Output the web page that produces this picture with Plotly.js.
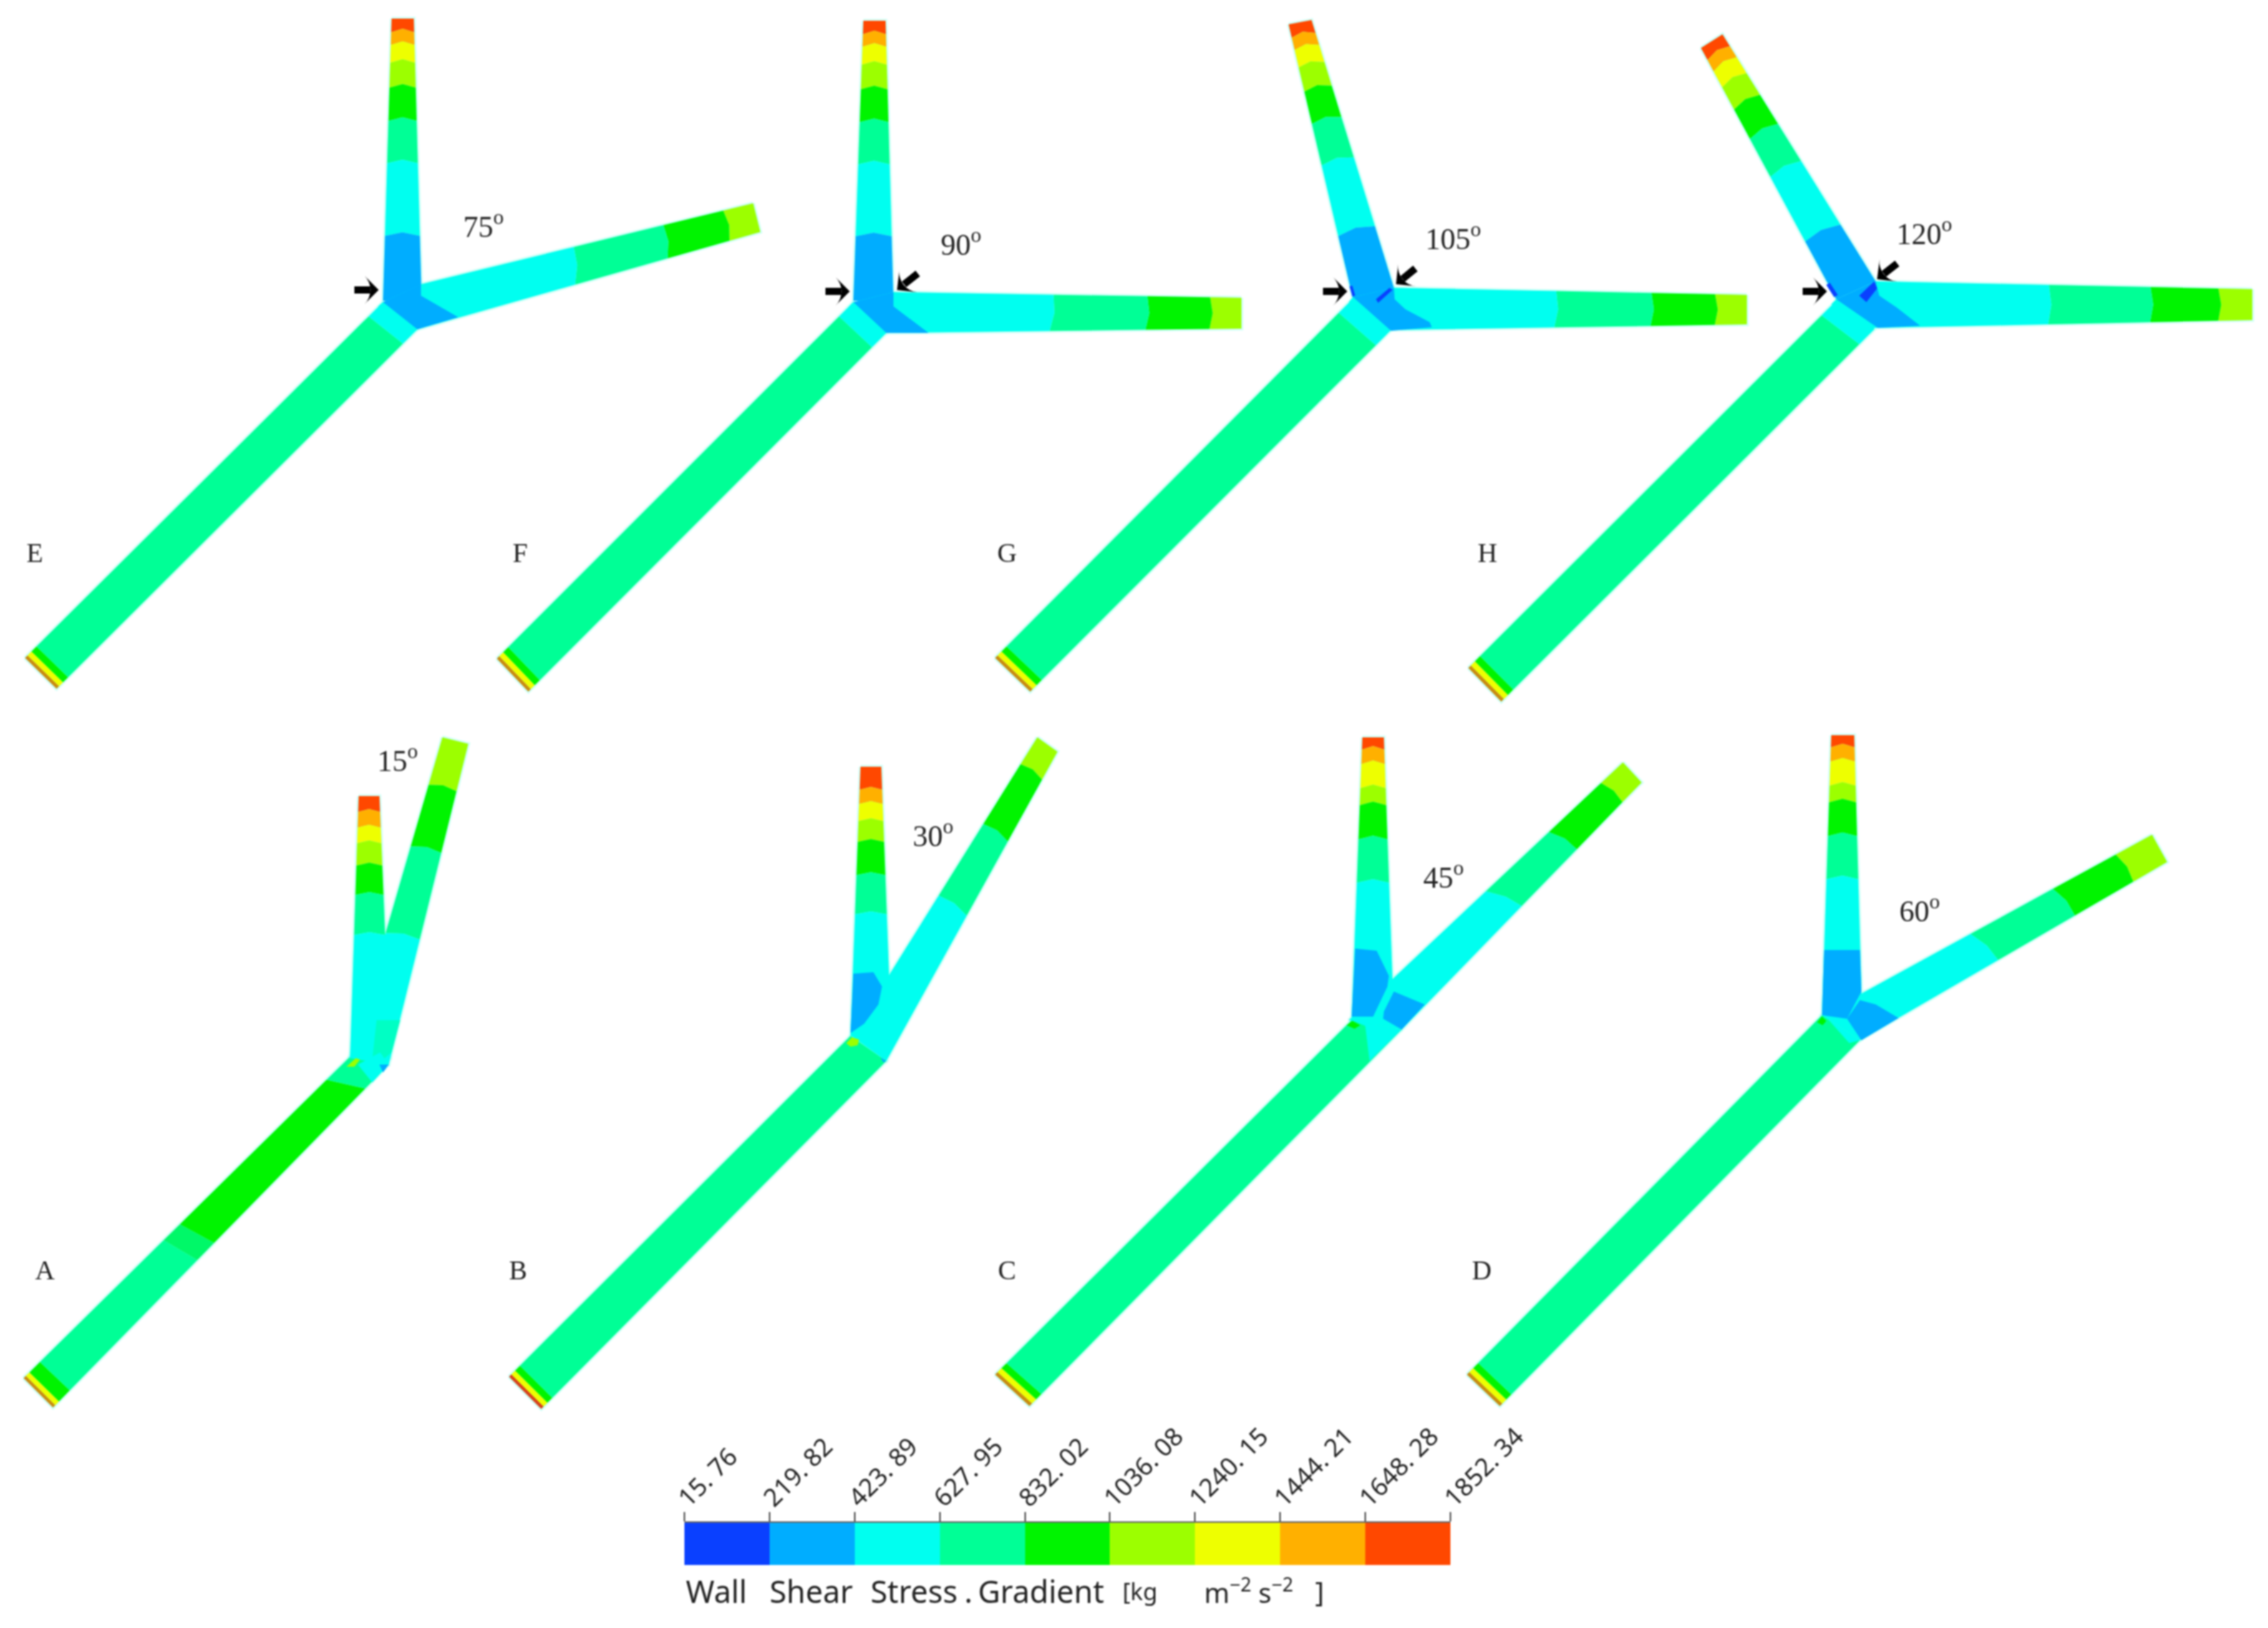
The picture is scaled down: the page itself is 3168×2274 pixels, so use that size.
<!DOCTYPE html>
<html><head><meta charset="utf-8">
<script src="https://cdn.plot.ly/plotly-3.0.1.min.js"></script>
<style>html,body{margin:0;padding:0;background:#fff}#chart{width:3168px;height:2274px;filter:blur(1px)}</style>
</head><body><div id="chart"></div>
<script>
// colour classes of the wall-shear-stress gradient contour
const legendValues=[15.76,219.82,423.89,627.95,832.02,1036.08,1240.15,1444.21,1648.28,1852.34];
const legendLabels=['15. 76','219. 82','423. 89','627. 95','832. 02','1036. 08','1240. 15','1444. 21','1648. 28','1852. 34'];
const classColors=['#0a40ff','#00adff','#00fff0','#00ff96','#00f400','#9cff00','#eeff00','#ffb000','#ff4800'];
const rimColor='#c98a10', rimRed='#d8401a', mixColor='#00f868', softColor='#00ffc4';

// wall outlines: [outlet/inlet edge] -> [junction edge], left and right walls
const inletE=[[35,919],[535,422],[79,962],[583,460]];
const topE=[[547,26],[535,420],[578,26],[589,420]];
const rightE=[[1052,284],[588,397],[1062,324],[583,460]];
const inletF=[[694,920],[1192,422],[738,966],[1238,465]];
const topF=[[1206,29],[1192,420],[1237,29],[1248,420]];
const rightF=[[1734,416],[1248,408],[1734,459],[1238,465]];
const inletG=[[1390,919],[1890,417],[1439,966],[1942,462]];
const topG=[[1800,34],[1890,418],[1832,28],[1947,402]];
const rightG=[[2440,412],[1947,402],[2440,453],[1942,461]];
const inletH=[[2051,933],[2565,420],[2097,980],[2618,460]];
const topH=[[2376,67],[2565,418],[2406,48],[2620,393]];
const rightH=[[3146,404],[2620,393],[3146,447],[2618,458]];
const inletA=[[33,1925],[488,1477],[74,1966],[543,1487]];
const topA=[[501,1112],[489,1478],[530,1112],[545,1478]];
const rightA=[[618,1030],[488,1478],[654,1039],[543,1487]];
const inletB=[[711,1923],[1188,1447],[756,1968],[1238,1482]];
const topB=[[1202,1071],[1188,1447],[1231,1071],[1245,1447]];
const rightB=[[1449,1030],[1189,1447],[1477,1050],[1238,1482]];
const inletC=[[1390,1920],[1888,1425],[1438,1964],[1958,1438]];
const topC=[[1903,1030],[1888,1425],[1933,1030],[1947,1425]];
const rightC=[[2267,1065],[1884,1425],[2293,1093],[1958,1438]];
const inletD=[[2049,1920],[2545,1418],[2095,1964],[2598,1453]];
const topD=[[2558,1027],[2545,1418],[2590,1027],[2601,1418]];
const rightD=[[3006,1166],[2545,1418],[3027,1204],[2598,1453]];

// contour boundaries, as fractions along each pipe, and their colour classes
const topStopsUpper=[.048,.093,.157,.245,.362,.513,.77,1];
const topClassesUpper=[8,7,6,5,4,3,2,1];
const topStopsB=[.085,.138,.202,.279,.402,.548,1];
const topStopsC=[.043,.094,.18,.24,.36,.514,1];
const topStopsA=[.06,.12,.18,.265,.377,.53,1];
const topClassesLower=[8,7,6,5,4,3,2];
const rightStopsUpper=[.09,.27,.54,1], rightClasses=[5,4,3,2];
const rightStopsA=[.148,.34,.61,1], rightClassesA=[5,4,3,2];
const rightStopsB=[.09,.29,.53,1];
const rightStopsC=[.08,.27,.5,1];
const rightStopsD=[.11,.3,.55,1];
const inletStopsStd=[.007,.018,.032,.96,1], inletClassesStd=['rim',6,4,3,2];
const inletStopsLow=[.007,.018,.032,1], inletClassesLow=['rim',6,4,3];
const inletStopsB=[.007,.018,.032,1], inletClassesB=['red',6,4,3];
const inletStopsA=[.007,.018,.05,.43,.48,.93,1], inletClassesA=['rim',6,4,3,'mix',4,3];

// low/high-shear patches near each junction: [class, outline]
const patchesE=[[2,[[535,422],[589,397],[583,460],[575,462],[528,428]]],[1,[[588,397],[588,413],[640,443],[583,460],[535,422]]]];
const patchesF=[[2,[[1192,422],[1248,408],[1238,465],[1230,467],[1186,428]]],[1,[[1248,408],[1248,428],[1297,465],[1238,465],[1192,422]]]];
const patchesG=[[2,[[1890,415],[1947,402],[1942,462],[1934,464],[1884,422]]],[1,[[1947,402],[1948,418],[1963,432],[1997,450],[2000,457],[1943,462],[1890,415]]],
  [0,[[1922,418],[1941,402],[1945,405],[1925,423]]],[0,[[1885,400],[1889,399],[1893,413],[1889,414]]]];
const patchesH=[[2,[[2565,418],[2620,393],[2618,460],[2610,462],[2558,425]]],[1,[[2620,393],[2625,413],[2650,430],[2682,455],[2623,458],[2565,418]]],
  [0,[[2618,393],[2597,413],[2607,422],[2622,403]]],[0,[[2551,398],[2556,395],[2567,412],[2562,415]]]];
const patchesA=[['soft',[[526,1425],[559,1425],[547,1470],[535,1480],[520,1480]]],
  [2,[[500,1487],[531,1470],[543,1487],[520,1512]]],[1,[[530,1487],[543,1487],[535,1498]]],
  [5,[[484,1490],[497,1478],[503,1480],[495,1490]]]];
const patchesB=[[1,[[1192,1360],[1220,1358],[1232,1378],[1227,1403],[1207,1430],[1188,1443]]],
  [5,[[1182,1457],[1190,1449],[1200,1452],[1198,1460],[1188,1462]]],[1,[[1230,1477],[1238,1482],[1234,1484]]]];
const patchesC=[[2,[[1888,1425],[1958,1438],[1913,1482],[1907,1433]]],
  [1,[[1893,1325],[1923,1328],[1940,1363],[1938,1378],[1918,1420],[1888,1420]]],
  [1,[[1947,1385],[1977,1397],[1990,1403],[1958,1438],[1932,1423],[1933,1413]]],
  [4,[[1881,1432],[1889,1426],[1900,1432],[1892,1437]]]];
const patchesD=[[2,[[2545,1418],[2598,1453],[2583,1457],[2552,1422]]],
  [1,[[2548,1327],[2598,1327],[2600,1385],[2580,1423],[2545,1418]]],
  [1,[[2598,1397],[2620,1403],[2652,1422],[2600,1453],[2580,1423]]],
  [4,[[2538,1428],[2545,1420],[2551,1426],[2546,1432]]]];

// panel list
const pipes=[
 [inletE,inletStopsStd,inletClassesStd,0],[topE,topStopsUpper,topClassesUpper,5],[rightE,rightStopsUpper,rightClasses,4],
 [inletF,inletStopsStd,inletClassesStd,0],[topF,topStopsUpper,topClassesUpper,5],[rightF,rightStopsUpper,rightClasses,4],
 [inletG,inletStopsStd,inletClassesStd,0],[topG,topStopsUpper,topClassesUpper,5],[rightG,rightStopsUpper,rightClasses,4],
 [inletH,inletStopsStd,inletClassesStd,0],[topH,topStopsUpper,topClassesUpper,5],[rightH,rightStopsUpper,rightClasses,4],
 [inletA,inletStopsA,inletClassesA,0],[topA,topStopsA,topClassesLower,4],[rightA,rightStopsA,rightClassesA,4],
 [inletB,inletStopsB,inletClassesB,0],[topB,topStopsB,topClassesLower,4],[rightB,rightStopsB,rightClasses,4],
 [inletC,inletStopsLow,inletClassesLow,0],[topC,topStopsC,topClassesLower,5],[rightC,rightStopsC,rightClasses,4],
 [inletD,inletStopsLow,inletClassesLow,0],[topD,topStopsC,topClassesLower,5],[rightD,rightStopsD,rightClasses,4]
];
const patches=[patchesE,patchesF,patchesG,patchesH,patchesA,patchesB,patchesC,patchesD];

// annotation content
const panelLetters=['E','F','G','H','A','B','C','D'];
const letterX=[48,726,1406,2077,63,723,1406,2069];
const letterY=[772,772,772,772,1774,1774,1774,1774];
const angleText=['75','90','105','120','15','30','45','60'];
const angleX=[675,1342,2030,2688,555,1303,2016,2681];
const angleY=[313,338,330,323,1059,1164,1222,1269];
const arrowTail=[[495,405],[1153,407],[1848,407],[2518,407],[1282,382],[1977,375],[2650,368]];
const arrowTip=[[529,405],[1187,407],[1882,407],[2552,407],[1253,405],[1950,397],[2622,390]];
const titleParts=['Wall','Shear','Stress','.','Gradient','[kg','m<sup>−2</sup> s<sup>−2</sup>',']'];
const titleX=[956,1073,1214,1345,1364,1566,1680,1835];
const titleSizes=[43,43,43,43,43,33,38,38];

function colorOf(k){return k==='rim'?rimColor:k==='red'?rimRed:k==='mix'?mixColor:k==='soft'?softColor:classColors[k];}
function mix(a,b,t){return [a[0]+(b[0]-a[0])*t,a[1]+(b[1]-a[1])*t];}
function boundary(p,t,b){
  const L=mix(p[0],p[1],t),R=mix(p[2],p[3],t);
  const M=mix(L,R,.5);
  const ax=[(p[1][0]+p[3][0]-p[0][0]-p[2][0])/2,(p[1][1]+p[3][1]-p[0][1]-p[2][1])/2];
  const n=Math.hypot(ax[0],ax[1]);
  const o=(t>0&&t<1)?b:0;
  return [L,[M[0]-ax[0]/n*o,M[1]-ax[1]/n*o],R];
}
function poly(pts,color,line){
  const xs=pts.map(q=>q[0]).concat(pts[0][0]),ys=pts.map(q=>q[1]).concat(pts[0][1]);
  return {type:'scatter',mode:'lines',x:xs,y:ys,fill:'toself',fillcolor:color,
    line:line||{width:0,color:color},hoverinfo:'skip',showlegend:false,xaxis:'x',yaxis:'y'};
}
const traces=[];
// pale fringe under every pipe
pipes.forEach(([p])=>traces.push(poly([p[0],p[2],p[3],p[1]],'rgba(150,255,235,1)',{width:5,color:'rgba(170,255,240,0.55)'})));
pipes.forEach(([p,stops,cls,b],idx)=>{
  let t0=0;
  stops.forEach((t1,i)=>{
    const a=boundary(p,t0,b),c=boundary(p,t1,b);
    traces.push(poly(a.concat(c.slice().reverse()),colorOf(cls[i])));
    t0=t1;
  });
  if(idx%3===2){
    patches[(idx-2)/3].forEach(([k,pts])=>traces.push(poly(pts,colorOf(k))));
  }
});
// black pointers: shaft plus arrow head
arrowTip.forEach((tip,i)=>{
  const tail=arrowTail[i], neck=mix(tail,tip,.66);
  traces.push({type:'scatter',mode:'lines',x:[tail[0],neck[0]],y:[tail[1],neck[1]],line:{width:10,color:'#000'},
    hoverinfo:'skip',showlegend:false});
  const ang=Math.atan2(tip[0]-tail[0],-(tip[1]-tail[1]))*180/Math.PI;
  traces.push({type:'scatter',mode:'markers',x:[tip[0]],y:[tip[1]],
    marker:{symbol:'arrow-wide',size:28,angle:ang,color:'#000',line:{width:0}},hoverinfo:'skip',showlegend:false});
});
// legend bar through its own value axis
const n=classColors.length;
const scale=[];
classColors.forEach((c,i)=>{scale.push([i/n,c]);scale.push([(i+1)/n,c]);});
traces.push({type:'heatmap',x:legendValues,y:[0,1],z:[classColors.map((c,i)=>i)],zmin:-.5,zmax:n-.5,
  colorscale:scale,showscale:false,hoverinfo:'skip',xaxis:'x2',yaxis:'y2'});

const annotations=[];
panelLetters.forEach((s,i)=>annotations.push({x:letterX[i],y:letterY[i],xref:'x',yref:'y',text:s,showarrow:false,
  font:{family:'Liberation Serif',size:38,color:'#222'}}));
angleText.forEach((s,i)=>annotations.push({x:angleX[i],y:angleY[i],xref:'x',yref:'y',text:s+'<sup>o</sup>',showarrow:false,
  font:{family:'Liberation Serif',size:42,color:'#222'}}));
titleParts.forEach((s,i)=>annotations.push({x:titleX[i],y:2222,xref:'x',yref:'y',xanchor:'left',text:s,showarrow:false,
  font:{family:'Noto Sans',size:titleSizes[i],color:'#222'}}));

Plotly.newPlot('chart',traces,{
  width:3168,height:2274,margin:{l:0,r:0,t:0,b:0},paper_bgcolor:'#fff',plot_bgcolor:'rgba(0,0,0,0)',showlegend:false,
  xaxis:{range:[0,3168],visible:false,domain:[0,1],fixedrange:true},
  yaxis:{range:[2274,0],visible:false,domain:[0,1],fixedrange:true},
  xaxis2:{domain:[956/3168,2026/3168],range:[15.76,1852.34],anchor:'y2',side:'top',tickmode:'array',
    tickvals:legendValues,ticktext:legendLabels,tickangle:-45,ticks:'outside',ticklen:13,tickwidth:2,tickcolor:'#444',
    ticklabelstandoff:-14,ticklabelshift:-6,
    tickfont:{family:'Noto Sans',size:35,color:'#222'},showgrid:false,zeroline:false,showline:true,linecolor:'#666',linewidth:2},
  yaxis2:{domain:[1-2186/2274,1-2127/2274],range:[0,1],anchor:'x2',visible:false},
  annotations:annotations
},{displayModeBar:false,staticPlot:true});
</script></body></html>
